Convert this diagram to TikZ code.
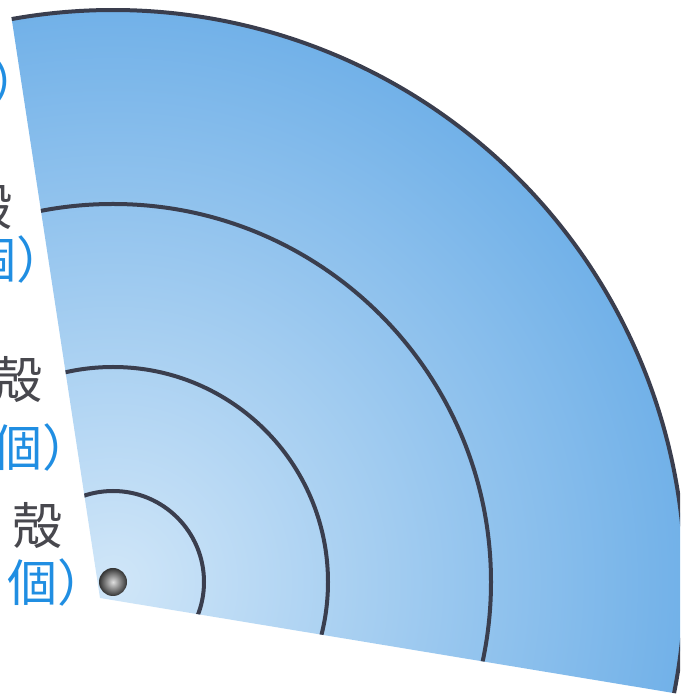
\documentclass[tikz,border=0pt]{standalone}
\usepackage{fontspec}
\usepackage{xcolor}
\newfontfamily\jpfont{Noto Sans CJK JP}
\usetikzlibrary{positioning}

\definecolor{orbitline}{RGB}{58,62,78}
\definecolor{shellgray}{RGB}{72,72,78}
\definecolor{countblue}{RGB}{32,142,226}
\definecolor{faninner}{RGB}{208,230,248}
\definecolor{fanouter}{RGB}{76,156,226}

\begin{document}
\begin{tikzpicture}[x=1pt, y=1pt,
  shelltxt/.style={font=\jpfont\fontsize{50}{50}\selectfont, text=shellgray, inner sep=0pt},
  counttxt/.style={font=\jpfont\fontsize{50}{50}\selectfont, text=countblue, inner sep=0pt},
  orbit/.style={draw=orbitline, line width=4pt}]
\clip (0,0) rectangle (680,695);

% 原子核与扇形顶点
\coordinate (nucleus) at (113,113);
\coordinate (apex) at (100,97);

% 扇形底色与内层壳层
\begin{scope}
\clip (apex) -- ([shift={(nucleus)}]100.2:572) arc[start angle=100.2, end angle=-11.2, radius=572] -- cycle;
\shade[inner color=faninner, outer color=fanouter] (nucleus) circle (800);
\draw[orbit] (nucleus) circle (91);
\draw[orbit] (nucleus) circle (215);
\draw[orbit] (nucleus) circle (378);
\end{scope}

% 最外层壳层
\draw[orbit] ([shift={(nucleus)}]100.2:572) arc[start angle=100.2, end angle=-11.2, radius=572];

% 原子核
\node[circle, minimum size=28pt, inner sep=0pt, inner color=gray!25, outer color=black!80] (core) at (nucleus) {};

% 左侧标注
\node[counttxt] (cnt1) at (-8,613) {個）};
\node[shelltxt] (shl2) at (-12,488) {殻};
\node[counttxt] (cnt2) at (17,435) {個）};
\node[shelltxt] (shl3) at (18,315) {殻};
\node[counttxt] (cnt3) at (42,247) {個）};
\node[shelltxt] (shl4) at (37.5,169) {殻};
\node[counttxt] (cnt4) at (57,112) {個）};
\end{tikzpicture}
\end{document}
